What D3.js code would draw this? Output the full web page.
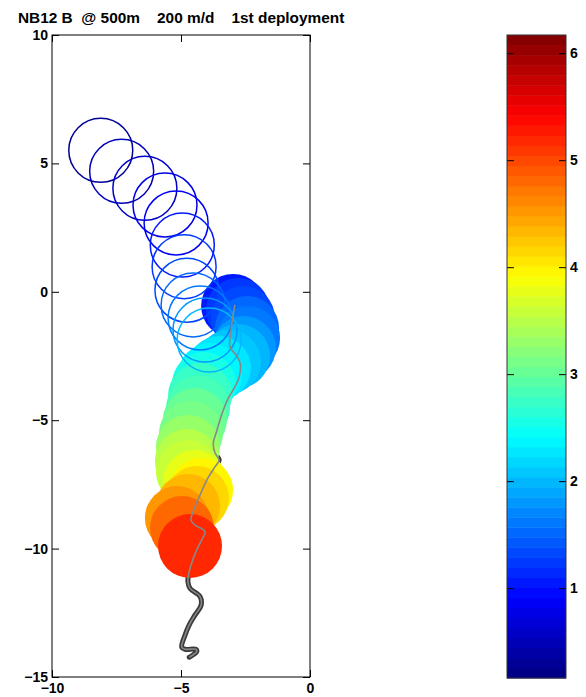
<!DOCTYPE html>
<html>
<head>
<meta charset="utf-8">
<script src="https://cdn.jsdelivr.net/npm/d3@7"></script>
<style>
body { margin: 0; background: #fff; }
svg { display: block; font-family: "Liberation Sans", Arial, sans-serif; font-weight: bold; }
</style>
</head>
<body>
<svg id="chart" width="586" height="697"></svg>
<script>
var titleText = "NB12 B  @ 500m    200 m/d    1st deployment";
var xTicks = [-10, -5, 0];
var yTicks = [-15, -10, -5, 0, 5, 10];
var cbTicks = [1, 2, 3, 4, 5, 6];
var cRange = [0.16, 6.17];

// open circles (earlier positions)
var openX = [-8.11, -7.30, -6.40, -5.62, -5.19, -4.95, -4.88, -4.77, -4.53, -4.26, -4.07, -3.91];
var openY = [5.51, 4.69, 4.03, 3.38, 2.68, 1.82, 0.98, 0.06, -0.51, -1.02, -1.49, -1.88];
var openV = [0.3, 0.45, 0.6, 0.75, 0.9, 1.05, 1.2, 1.35, 1.5, 1.65, 1.8, 1.95];

// filled circles
var fillX = [-2.98, -2.79, -2.60, -2.44, -2.40, -2.56, -2.79, -3.14, -3.53, -3.88, -4.11, -4.26, -4.34,
             -4.46, -4.61, -4.73, -4.77, -4.73, -4.46, -4.22, -4.38, -4.73, -5.16, -4.96, -4.65];
var fillY = [-0.55, -0.71, -1.02, -1.41, -1.80, -2.19, -2.50, -2.73, -2.97, -3.24, -3.59, -4.02, -4.52,
             -4.99, -5.50, -6.04, -6.59, -7.02, -7.41, -7.72, -8.03, -8.34, -8.81, -9.20, -9.90];
var fillV = [1.05, 1.2, 1.35, 1.5, 1.65, 1.8, 1.95, 2.1, 2.25, 2.4, 2.55, 2.7, 2.85,
             3.0, 3.15, 3.3, 3.45, 3.6, 3.8, 3.95, 4.15, 4.35, 4.55, 4.8, 5.15];

// float track
var pathX = [-2.91, -2.97, -3.06, -3.10, -2.87, -2.71, -2.74, -2.91, -3.17, -3.36, -3.49, -3.64, -3.75,
             -3.68, -3.52, -3.68, -4.00, -4.26, -4.46, -4.61, -4.46, -4.07, -4.20, -4.39, -4.59, -4.72,
             -4.73, -4.65, -4.26, -4.22, -4.46, -4.68, -4.84, -4.97, -4.84, -4.42, -4.39, -4.68];
var pathY = [-0.51, -0.84, -1.49, -2.14, -2.46, -2.77, -3.31, -3.70, -4.15, -4.60, -4.99, -5.50, -5.89,
             -6.28, -6.55, -6.81, -7.33, -7.91, -8.37, -8.89, -9.08, -9.34, -9.67, -10.05, -10.57, -11.09,
             -11.30, -11.55, -11.87, -12.20, -12.59, -12.97, -13.36, -13.84, -13.92, -13.92, -14.01, -14.23];

var svg = d3.select("#chart");
var margin = {left: 52, right: 310, top: 35, bottom: 677};
var markerR = 32;

function jet(t) {
  function c(v) { return Math.max(0, Math.min(1, v)); }
  var r = c(1.5 - Math.abs(4 * t - 3)), g = c(1.5 - Math.abs(4 * t - 2)), b = c(1.5 - Math.abs(4 * t - 1));
  return d3.rgb(r * 255, g * 255, b * 255).toString();
}
var color = d3.scaleQuantize().domain(cRange)
  .range(d3.range(64).map(function(i) { return jet((i + 0.5) / 64); }));

var x = d3.scaleLinear().domain([-10, 0]).range([margin.left, margin.right]);
var y = d3.scaleLinear().domain([-15, 10]).range([margin.bottom, margin.top]);

// title
svg.append("text")
  .attr("x", 18).attr("y", 23)
  .attr("font-size", 15.4)
  .style("white-space", "pre")
  .text(titleText);

var plot = svg.append("g");

var line = d3.line().x(function(d) { return x(d[0]); }).y(function(d) { return y(d[1]); })
  .curve(d3.curveCatmullRom);
var track = pathX.map(function(d, i) { return [d, pathY[i]]; });

plot.append("path").datum(track)
  .attr("d", line).attr("fill", "none")
  .attr("stroke", "#3a3a3a").attr("stroke-width", 5)
  .attr("stroke-linejoin", "round").attr("stroke-linecap", "round");

plot.selectAll("circle.filled").data(fillV).enter().append("circle")
  .attr("class", "filled")
  .attr("cx", function(d, i) { return x(fillX[i]); })
  .attr("cy", function(d, i) { return y(fillY[i]); })
  .attr("r", markerR)
  .attr("fill", function(d) { return color(d); });

plot.selectAll("circle.open").data(openV).enter().append("circle")
  .attr("class", "open")
  .attr("cx", function(d, i) { return x(openX[i]); })
  .attr("cy", function(d, i) { return y(openY[i]); })
  .attr("r", markerR)
  .attr("fill", "none")
  .attr("stroke", function(d) { return color(d); })
  .attr("stroke-width", 1.5);

plot.append("path").datum(track)
  .attr("d", line).attr("fill", "none")
  .attr("stroke", "#888").attr("stroke-width", 1.6)
  .attr("stroke-linejoin", "round");

// axes, ticks pointing inward on all sides
function fmt(d) { return d < 0 ? "\u2212" + Math.abs(d) : "" + d; }
var tick = 7;
svg.append("g").attr("transform", "translate(0," + margin.bottom + ")")
  .call(d3.axisBottom(x).tickValues(xTicks).tickSizeInner(-tick).tickSizeOuter(0).tickPadding(6).tickFormat(fmt));
svg.append("g").attr("transform", "translate(0," + margin.top + ")")
  .call(d3.axisTop(x).tickValues(xTicks).tickSizeInner(-tick).tickSizeOuter(0).tickFormat(""));
svg.append("g").attr("transform", "translate(" + margin.left + ",0)")
  .call(d3.axisLeft(y).tickValues(yTicks).tickSizeInner(-tick).tickSizeOuter(0).tickPadding(4).tickFormat(fmt));
svg.append("g").attr("transform", "translate(" + margin.right + ",0)")
  .call(d3.axisRight(y).tickValues(yTicks).tickSizeInner(-tick).tickSizeOuter(0).tickFormat(""));

svg.append("rect")
  .attr("x", margin.left).attr("y", margin.top)
  .attr("width", margin.right - margin.left).attr("height", margin.bottom - margin.top)
  .attr("fill", "none").attr("stroke", "#000").attr("stroke-width", 1);

// colorbar
var cb = {left: 507, right: 566, top: 35, bottom: 678};
var cy = d3.scaleLinear().domain(cRange).range([cb.bottom, cb.top]);
var bands = color.range().map(function(c) { return color.invertExtent(c); });
svg.append("g").selectAll("rect").data(bands).enter().append("rect")
  .attr("x", cb.left).attr("width", cb.right - cb.left)
  .attr("y", function(d) { return cy(d[1]); })
  .attr("height", function(d) { return cy(d[0]) - cy(d[1]) + 0.5; })
  .attr("fill", function(d) { return color((d[0] + d[1]) / 2); });

svg.append("g").attr("transform", "translate(" + cb.right + ",0)")
  .call(d3.axisRight(cy).tickValues(cbTicks).tickSizeInner(-tick).tickSizeOuter(0).tickPadding(4).tickFormat(d3.format("d")));
svg.append("g").attr("transform", "translate(" + cb.left + ",0)")
  .call(d3.axisLeft(cy).tickValues(cbTicks).tickSizeInner(-tick).tickSizeOuter(0).tickFormat(""));

svg.selectAll(".domain").remove();
svg.selectAll(".tick line").attr("stroke", "#000");
svg.selectAll(".tick text").attr("font-size", 14).attr("font-family", "Liberation Sans, Arial, sans-serif")
  .attr("font-weight", "bold").attr("fill", "#000");

svg.append("rect")
  .attr("x", cb.left).attr("y", cb.top)
  .attr("width", cb.right - cb.left).attr("height", cb.bottom - cb.top)
  .attr("fill", "none").attr("stroke", "#333").attr("stroke-width", 1);
</script>
</body>
</html>
